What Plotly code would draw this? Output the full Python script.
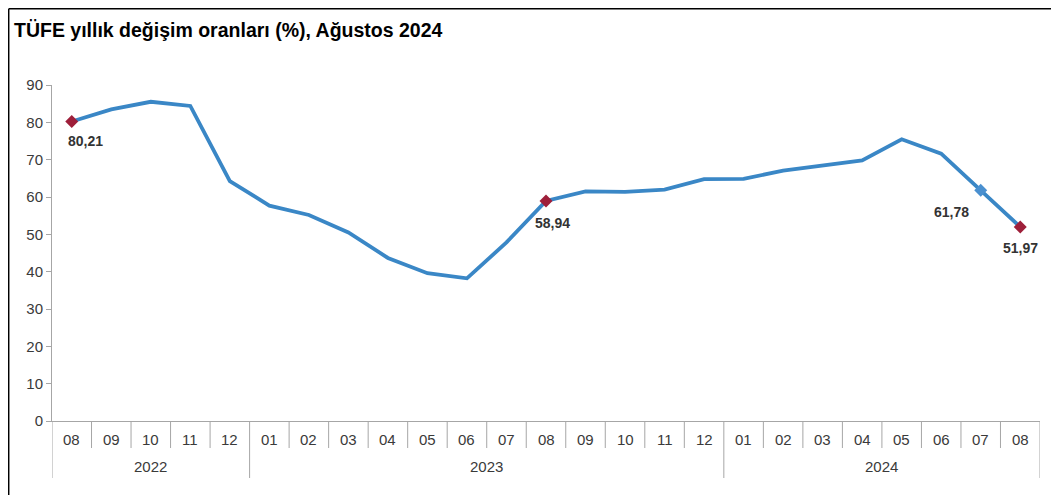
import plotly.graph_objects as go

months = ["08", "09", "10", "11", "12",
          "01", "02", "03", "04", "05", "06", "07", "08", "09", "10", "11", "12",
          "01", "02", "03", "04", "05", "06", "07", "08"]
years = ["2022"] * 5 + ["2023"] * 12 + ["2024"] * 8
values = [80.21, 83.45, 85.51, 84.39, 64.27,
          57.68, 55.18, 50.51, 43.68, 39.59, 38.21, 47.83, 58.94, 61.53, 61.36, 61.98, 64.77,
          64.86, 67.07, 68.50, 69.80, 75.45, 71.60, 61.78, 51.97]
year_labels = ["2022", "2023", "2024"]
labelled_idx = [0, 12, 23, 24]
title = "TÜFE yıllık değişim oranları (%), Ağustos 2024"

n = len(months)
xi = list(range(n))

OFF = 8  # page body margin
W, H = 1059 - OFF, 495 - OFF
L, R, T, B = 52 - OFF, 19, 85 - OFF, 74
pw, ph = W - L - R, H - T - B

def py(pix):  # window pixel y -> paper y
    return (H - B - (pix - OFF)) / ph

def px(pix):  # window pixel x -> paper x
    return ((pix - OFF) - L) / pw

FONT = "Liberation Sans, Arial, sans-serif"
LINE = "#3A87C6"
RED = "#9E1F3A"
TXT = "#3A3A3A"

fig = go.Figure()
fig.add_trace(go.Scatter(x=xi, y=values, mode="lines",
                         line=dict(color=LINE, width=3.8), hoverinfo="skip"))
mk_colors = [RED if i != 23 else "#4A90D0" for i in labelled_idx]
fig.add_trace(go.Scatter(x=[xi[i] for i in labelled_idx], y=[values[i] for i in labelled_idx],
                         mode="markers",
                         marker=dict(symbol="diamond", size=10, color=mk_colors,
                                     line=dict(width=0)), hoverinfo="skip"))

offsets = {0: (14, 19), 12: (6, 22), 23: (-29, 22), 24: (0, 21)}
for i in labelled_idx:
    ox, oy = offsets[i]
    fig.add_annotation(x=xi[i], y=values[i], xref="x", yref="y",
                       text=f"{values[i]:.2f}".replace(".", ","),
                       showarrow=True, arrowcolor="rgba(0,0,0,0)", ax=ox, ay=oy,
                       font=dict(family=FONT, size=14, color="#333333", weight="bold"))

# month labels
for i, m in enumerate(months):
    fig.add_annotation(x=xi[i], y=py(439), xref="x", yref="paper", text=m,
                       showarrow=False, font=dict(family=FONT, size=15, color=TXT),
                       yanchor="middle")

# year labels and separators
groups = {}
for i, y in enumerate(years):
    groups.setdefault(y, []).append(i)
for y in year_labels:
    idx = groups[y]
    fig.add_annotation(x=(idx[0] + idx[-1]) / 2, y=py(466), xref="x", yref="paper",
                       text=y, showarrow=False,
                       font=dict(family=FONT, size=15, color=TXT), yanchor="middle")

GRAY = "#A6A6A6"
for i in range(1, n):
    if years[i] == years[i - 1]:
        fig.add_shape(type="line", xref="x", yref="paper", x0=i - 0.5, x1=i - 0.5,
                      y0=0, y1=py(448), line=dict(color=GRAY, width=1))
bounds = [-0.5] + [i - 0.5 for i in range(1, n) if years[i] != years[i - 1]] + [n - 0.5]
for b in bounds:
    fig.add_shape(type="line", xref="x", yref="paper", x0=b, x1=b,
                  y0=0, y1=py(478), line=dict(color=GRAY, width=1))

# outer frame lines (left and top)
fig.add_shape(type="line", xref="paper", yref="paper", x0=px(8.7), x1=px(8.7),
              y0=py(8.7), y1=py(495), line=dict(color="#000000", width=1.5))
fig.add_shape(type="line", xref="paper", yref="paper", x0=px(8.7), x1=px(1059),
              y0=py(8.7), y1=py(8.7), line=dict(color="#000000", width=1.5))

fig.add_annotation(x=px(12), y=py(30), xref="paper", yref="paper", text=title,
                   showarrow=False, xanchor="left", yanchor="middle",
                   font=dict(family=FONT, size=19.5, color="#000000", weight="bold"))

fig.update_layout(
    width=W, height=H, margin=dict(l=L, r=R, t=T, b=B),
    paper_bgcolor="white", plot_bgcolor="white", showlegend=False,
    xaxis=dict(range=[-0.5, n - 0.5], showticklabels=False, showgrid=False,
               zeroline=False, showline=True, linecolor=GRAY, linewidth=1, ticks=""),
    yaxis=dict(range=[0, 90], dtick=10, showgrid=False, zeroline=False,
               showline=True, linecolor=GRAY, linewidth=1, ticks="outside",
               ticklen=5, tickcolor=GRAY,
               tickfont=dict(family=FONT, size=15, color=TXT)),
)

fig.write_html("out.html")
